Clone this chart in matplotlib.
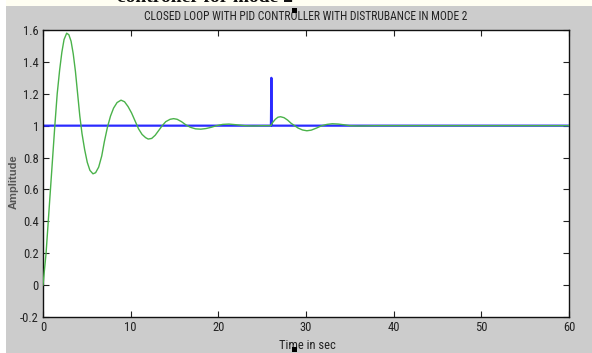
import matplotlib
matplotlib.use("Agg")
import matplotlib.pyplot as plt
from matplotlib.patches import Rectangle
from matplotlib import font_manager

# ---- data ----
green_t = [0, 0.35, 0.6, 0.85, 1.1, 1.35, 1.62, 1.9, 2.15, 2.4, 2.7, 2.95, 3.2, 3.45,
           3.7, 3.95, 4.2, 4.45, 4.75, 5.05, 5.35, 5.7, 6.0, 6.35, 6.7, 7.0, 7.35, 7.7,
           8.05, 8.45, 8.9, 9.3, 9.7, 10.1, 10.5, 10.9, 11.3, 11.7, 12.0, 12.4, 12.8,
           13.2, 13.6, 14.0, 14.5, 14.9, 15.3, 15.8, 16.3, 16.8, 17.4, 18.0, 18.6,
           19.2, 19.8, 20.5, 21.2, 22.0, 23.0, 24.0, 25.0, 26.0, 26.2, 26.5, 26.8,
           27.1, 27.5, 27.9, 28.3, 28.7, 29.1, 29.6, 30.1, 30.6, 31.2, 31.8, 32.4,
           33.0, 33.7, 34.4, 35.0, 36.0, 38.0, 60.0]
green_y = [0, 0.2, 0.4, 0.6, 0.8, 1.0, 1.2, 1.35, 1.46, 1.54, 1.58, 1.57, 1.53, 1.45,
           1.34, 1.2, 1.06, 0.95, 0.85, 0.77, 0.72, 0.698, 0.705, 0.74, 0.81, 0.9,
           0.99, 1.06, 1.11, 1.145, 1.16, 1.15, 1.12, 1.08, 1.03, 0.98, 0.945, 0.925,
           0.916, 0.92, 0.94, 0.97, 1.0, 1.025, 1.04, 1.044, 1.04, 1.025, 1.005, 0.99,
           0.98, 0.978, 0.982, 0.99, 1.0, 1.008, 1.01, 1.006, 1.0, 0.998, 1.0, 1.0,
           1.02, 1.04, 1.053, 1.056, 1.05, 1.035, 1.015, 1.0, 0.985, 0.973, 0.968,
           0.972, 0.985, 1.0, 1.008, 1.012, 1.01, 1.005, 1.0, 0.998, 1.0, 1.0]

blue_t = [0, 26.0, 26.05, 26.1, 60]
blue_y = [1, 1, 1.3, 1, 1]

x_ticks = [0, 10, 20, 30, 40, 50, 60]
y_ticks = [-0.2, 0, 0.2, 0.4, 0.6, 0.8, 1, 1.2, 1.4, 1.6]
y_tick_labels = ["-0.2", "0", "0.2", "0.4", "0.6", "0.8", "1", "1.2", "1.4", "1.6"]

title = "CLOSED LOOP WITH PID CONTROLLER WITH DISTRUBANCE IN MODE 2"
xlabel = "Time in sec"
ylabel = "Amplitude"
caption = "controller for mode 2"

# ---- pick an upright narrow sans font if one is installed ----
entries = font_manager.fontManager.ttflist

def upright(f):
    n = f.fname.lower()
    return (f.style == "normal" and "italic" not in n and "oblique" not in n
            and "bold" not in n and "mono" not in n and "serif" not in n.replace("sans", "")
            and f.weight in (400, "normal", "regular", "book"))

narrow = None
prefs = ["Liberation Sans Narrow", "Arial Narrow", "Roboto Condensed",
         "Open Sans Condensed", "Noto Sans Condensed", "DejaVu Sans Condensed"]
for p in prefs:
    for f in entries:
        if f.name == p and upright(f):
            narrow = font_manager.FontProperties(fname=f.fname)
            break
    if narrow:
        break
if narrow is None:
    for f in entries:
        n = f.fname.lower()
        if ("condensed" in n or "narrow" in n or "condensed" in str(f.stretch)) and upright(f):
            narrow = font_manager.FontProperties(fname=f.fname)
            break
if narrow is None:
    narrow = font_manager.FontProperties(family="Liberation Sans")

def fp(size):
    p = narrow.copy()
    p.set_size(size)
    return p

W, H = 592, 353
fig = plt.figure(figsize=(W / 100, H / 100), dpi=100, facecolor="#cccccc")

fig.patches.append(Rectangle((0, 1 - 6 / H), 1, 6 / H, transform=fig.transFigure,
                             facecolor="#fffef2", edgecolor="none", zorder=0))
fig.patches.append(Rectangle((0, 0), 6 / W, 1, transform=fig.transFigure,
                             facecolor="#ffffff", edgecolor="none", zorder=0))

left, right, top, bottom = 43, 569, 30, 317
ax = fig.add_axes([left / W, 1 - bottom / H, (right - left) / W, (bottom - top) / H])
ax.set_facecolor("white")

ax.plot(blue_t, blue_y, color="#2b2bff", lw=1.6, zorder=2)
ax.plot(green_t, green_y, color="#4ab24a", lw=1.0, zorder=3)

ax.set_xlim(0, 60)
ax.set_ylim(-0.2, 1.6)
ax.set_xticks(x_ticks)
ax.set_yticks(y_ticks)
ax.set_yticklabels(y_tick_labels)
ax.tick_params(direction="in", length=4, width=0.8, top=True, right=True,
               colors="#222222", pad=3)
for lab in ax.get_xticklabels() + ax.get_yticklabels():
    lab.set_fontproperties(fp(9))
for s in ax.spines.values():
    s.set_linewidth(1.0)
    s.set_color("#111111")

ax.set_title(title, fontproperties=fp(8.3), color="#222222", pad=7)
ax.set_xlabel(xlabel, fontproperties=fp(9), color="#222222")
ax.xaxis.set_label_coords((307 - left) / (right - left), -(339 - bottom) / (bottom - top))
ax.set_ylabel(ylabel, fontsize=8, family="Liberation Sans", fontweight="bold",
              color="#555555")
ax.yaxis.set_label_coords((19 - left) / (right - left), 0.47)

fig.text(205 / W, 1 + 3 / H, caption, ha="center", va="center", fontsize=14,
         fontweight="bold", family="Liberation Serif", color="#111111")

fig.patches.append(Rectangle((292 / W, 1 - 13 / H), 5 / W, 5 / H, transform=fig.transFigure,
                             facecolor="black", edgecolor="none", zorder=5))
fig.patches.append(Rectangle((292 / W, 1 - 352 / H), 5 / W, 5 / H, transform=fig.transFigure,
                             facecolor="black", edgecolor="none", zorder=5))

fig.savefig("out.png", dpi=100, facecolor=fig.get_facecolor())
